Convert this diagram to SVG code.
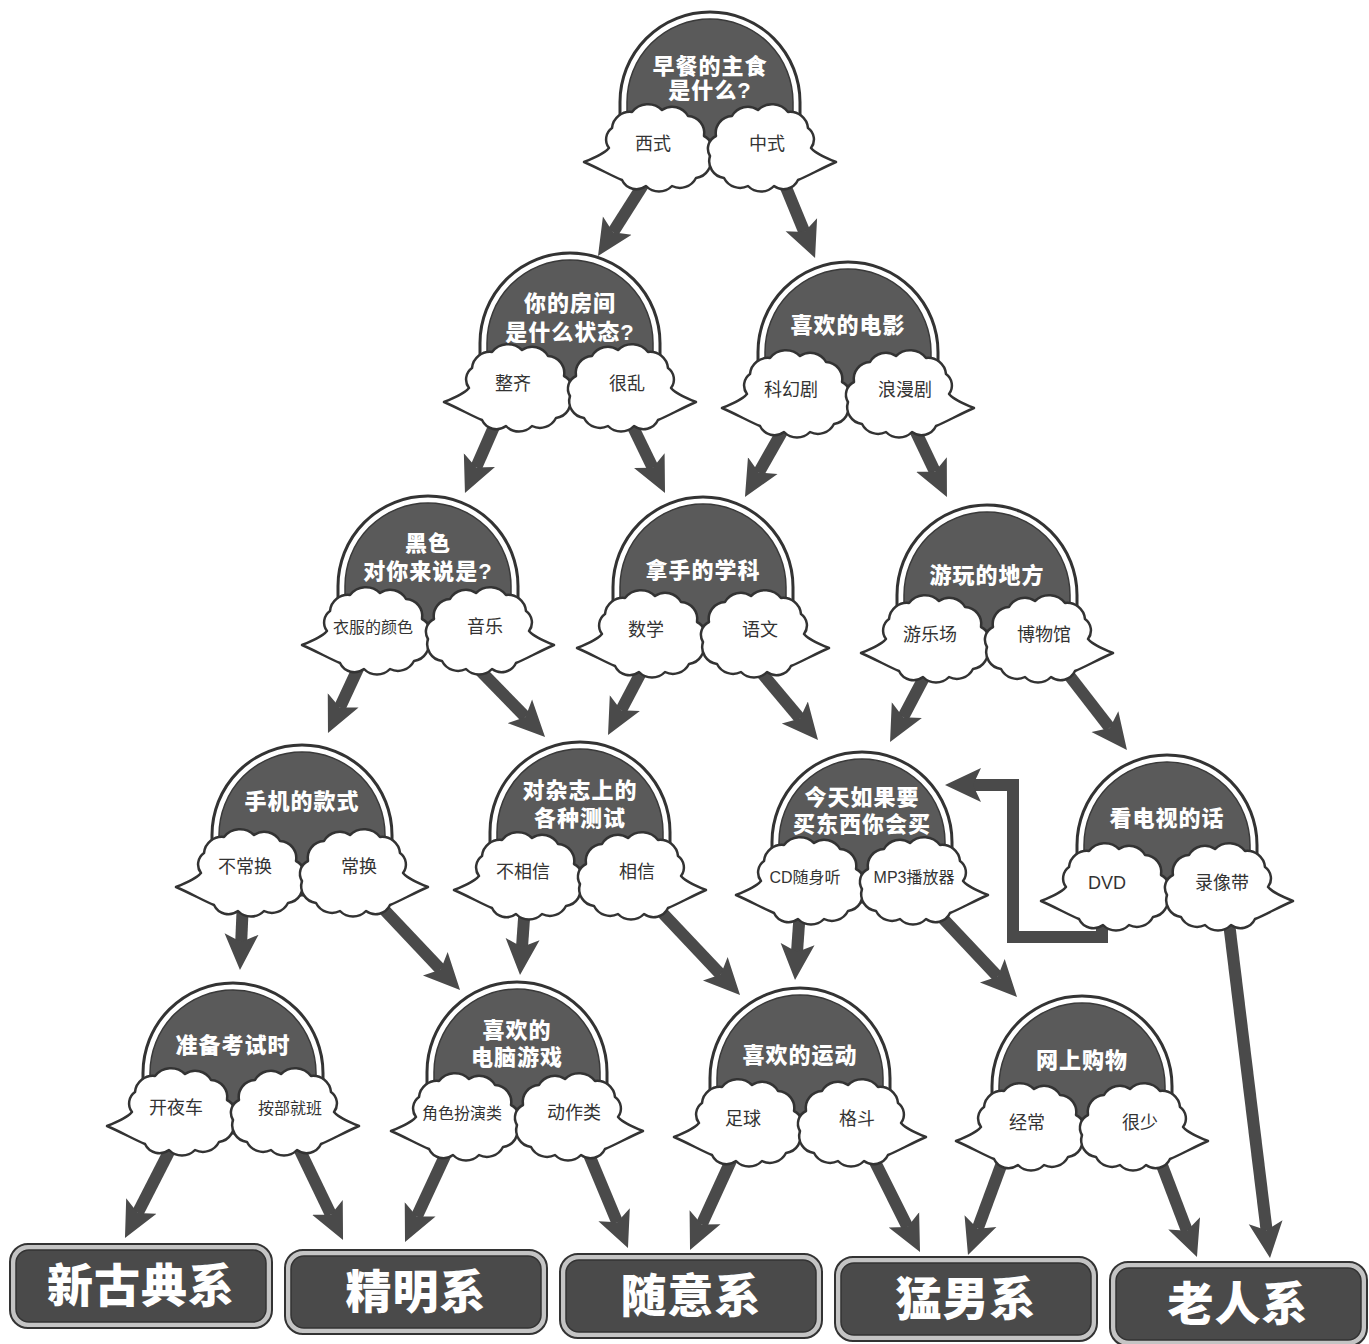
<svg xmlns="http://www.w3.org/2000/svg" width="1369" height="1344" viewBox="0 0 1369 1344">
<defs>
<style>
.cl{fill:#fff;stroke:#333;stroke-width:2.5;stroke-linejoin:round}
.dO{fill:#fff;stroke:#333;stroke-width:3}
.dI{fill:#5a5a5a;stroke:#3a3a3a;stroke-width:1.5}
.t{font-family:"Liberation Sans","Noto Sans CJK SC",sans-serif;font-weight:900;font-size:22px;fill:#fff;text-anchor:middle;letter-spacing:1px}
.l{font-family:"Liberation Sans","Noto Sans CJK SC",sans-serif;font-size:18px;fill:#333;text-anchor:middle}
.s{font-size:16px}
.a{fill:none;stroke:#4a4a4a;stroke-width:12;stroke-linejoin:miter;marker-end:url(#ah)}
.bo{fill:#c4c4c4;stroke:#333;stroke-width:2}
.bi{fill:#4a4a4a;stroke:#333;stroke-width:1.5}
.bt{font-family:"Liberation Sans","Noto Sans CJK SC",sans-serif;font-weight:900;font-size:46px;fill:#fff;text-anchor:middle;letter-spacing:1px}
</style>
<marker id="ah" markerUnits="userSpaceOnUse" viewBox="0 0 38 38" refX="8" refY="19" markerWidth="38" markerHeight="38" orient="auto"><path d="M0,2 L36,19 L0,36 L8,19 Z" fill="#4a4a4a"/></marker>
<g id="dome"><path class="dO" d="M-90,150 V90 A90,90 0 0 1 90,90 V150 Z"/><path class="dI" d="M-83,150 V90 A83,83 0 0 1 83,90 V150 Z"/></g>
<path id="cloud" class="cl" d="M0,56 C10,52 20,48 25,42 A14,14 0 0 1 28,22 A18,18 0 0 1 48,6 A20,20 0 0 1 78,4 A18,18 0 0 1 104,10 A17,17 0 0 1 120,30 A14,14 0 0 1 126,50 A17,17 0 0 1 112,72 A18,18 0 0 1 88,80 A18,18 0 0 1 62,80 A16,16 0 0 1 38,74 C28,70 14,62 0,56 Z"/>
</defs>
<rect width="1369" height="1344" fill="#fff"/>
<g id="connectors">
<path class="a" d="M653.7,168.1 L613,232.3"/>
<path class="a" d="M777.4,166.5 L804.4,232.1"/>
<path class="a" d="M505,401.7 L476.2,467.4"/>
<path class="a" d="M623.3,407 L652.8,467.8"/>
<path class="a" d="M792.9,412.6 L758.8,472.6"/>
<path class="a" d="M906.4,411.9 L934.9,471.7"/>
<path class="a" d="M370.4,641.9 L339.8,707.6"/>
<path class="a" d="M456,645.7 L525.5,717"/>
<path class="a" d="M654.3,647.3 L621.1,710.2"/>
<path class="a" d="M742.1,649.7 L800,718.6"/>
<path class="a" d="M937.3,652.3 L903.1,717.2"/>
<path class="a" d="M1052.7,654.2 L1109.8,727.9"/>
<path class="a" d="M243.9,880 L241.2,942"/>
<path class="a" d="M361.3,885.5 L440.8,969.6"/>
<path class="a" d="M526.4,885.1 L522,947.1"/>
<path class="a" d="M641.3,890.5 L720.8,974.6"/>
<path class="a" d="M801.4,890.1 L797,952.1"/>
<path class="a" d="M921.3,895.5 L997.8,976.6"/>
<path class="a" d="M1102,900 V937 H1013 V785 H973"/>
<path class="a" d="M1225.6,895.1 L1266.6,1230.2"/>
<path class="a" d="M184.1,1122.2 L137.7,1213.1"/>
<path class="a" d="M286.3,1122 L330.9,1214.7"/>
<path class="a" d="M458.4,1126.9 L416.8,1216.6"/>
<path class="a" d="M577.3,1126.5 L617.2,1222.2"/>
<path class="a" d="M743.3,1133.8 L701.7,1224.5"/>
<path class="a" d="M861.1,1134.1 L907.5,1227"/>
<path class="a" d="M1011.9,1136.2 L977.7,1228.7"/>
<path class="a" d="M1152.9,1141.3 L1187,1230.8"/>
</g>
<g id="q1" transform="translate(710,12)">
<use href="#dome"/><use href="#cloud" transform="translate(-126,94)"/><use href="#cloud" transform="translate(126,94) scale(-1,1)"/>
<text class="t" y="62">早餐的主食</text><text class="t" y="86">是什么?</text>
<text class="l" x="-57" y="138">西式</text><text class="l" x="57" y="138">中式</text>
</g>
<g id="q2" transform="translate(570,253)">
<use href="#dome"/><use href="#cloud" transform="translate(-126,93)"/><use href="#cloud" transform="translate(126,93) scale(-1,1)"/>
<text class="t" y="58">你的房间</text><text class="t" y="87">是什么状态?</text>
<text class="l" x="-57" y="137">整齐</text><text class="l" x="57" y="137">很乱</text>
</g>
<g id="q3" transform="translate(848,262)">
<use href="#dome"/><use href="#cloud" transform="translate(-126,90)"/><use href="#cloud" transform="translate(126,90) scale(-1,1)"/>
<text class="t" y="71">喜欢的电影</text>
<text class="l" x="-57" y="134">科幻剧</text><text class="l" x="57" y="134">浪漫剧</text>
</g>
<g id="q4" transform="translate(428,496)">
<use href="#dome"/><use href="#cloud" transform="translate(-126,93)"/><use href="#cloud" transform="translate(126,93) scale(-1,1)"/>
<text class="t" y="55">黑色</text><text class="t" y="83">对你来说是?</text>
<text class="l s" x="-55" y="137">衣服的颜色</text><text class="l" x="57" y="137">音乐</text>
</g>
<g id="q5" transform="translate(703,497)">
<use href="#dome"/><use href="#cloud" transform="translate(-126,95)"/><use href="#cloud" transform="translate(126,95) scale(-1,1)"/>
<text class="t" y="81">拿手的学科</text>
<text class="l" x="-57" y="139">数学</text><text class="l" x="57" y="139">语文</text>
</g>
<g id="q6" transform="translate(987,505)">
<use href="#dome"/><use href="#cloud" transform="translate(-126,92)"/><use href="#cloud" transform="translate(126,92) scale(-1,1)"/>
<text class="t" y="78">游玩的地方</text>
<text class="l" x="-57" y="136">游乐场</text><text class="l" x="57" y="136">博物馆</text>
</g>
<g id="q7" transform="translate(302,745)">
<use href="#dome"/><use href="#cloud" transform="translate(-126,86)"/><use href="#cloud" transform="translate(126,86) scale(-1,1)"/>
<text class="t" y="64">手机的款式</text>
<text class="l" x="-57" y="128">不常换</text><text class="l" x="57" y="128">常换</text>
</g>
<g id="q8" transform="translate(580,742)">
<use href="#dome"/><use href="#cloud" transform="translate(-126,92)"/><use href="#cloud" transform="translate(126,92) scale(-1,1)"/>
<text class="t" y="56">对杂志上的</text><text class="t" y="84">各种测试</text>
<text class="l" x="-57" y="136">不相信</text><text class="l" x="57" y="136">相信</text>
</g>
<g id="q9" transform="translate(862,752)">
<use href="#dome"/><use href="#cloud" transform="translate(-126,87)"/><use href="#cloud" transform="translate(126,87) scale(-1,1)"/>
<text class="t" y="53">今天如果要</text><text class="t" y="80">买东西你会买</text>
<text class="l s" x="-57" y="131">CD随身听</text><text class="l s" x="52" y="131">MP3播放器</text>
</g>
<g id="q10" transform="translate(1167,755)">
<use href="#dome"/><use href="#cloud" transform="translate(-126,90)"/><use href="#cloud" transform="translate(126,90) scale(-1,1)"/>
<text class="t" y="71">看电视的话</text>
<text class="l" x="-60" y="134">DVD</text><text class="l" x="55" y="134">录像带</text>
</g>
<g id="q11" transform="translate(233,983)">
<use href="#dome"/><use href="#cloud" transform="translate(-126,87)"/><use href="#cloud" transform="translate(126,87) scale(-1,1)"/>
<text class="t" y="70">准备考试时</text>
<text class="l" x="-57" y="131">开夜车</text><text class="l s" x="57" y="131">按部就班</text>
</g>
<g id="q12" transform="translate(517,982)">
<use href="#dome"/><use href="#cloud" transform="translate(-126,93)"/><use href="#cloud" transform="translate(126,93) scale(-1,1)"/>
<text class="t" y="56">喜欢的</text><text class="t" y="83">电脑游戏</text>
<text class="l s" x="-55" y="137">角色扮演类</text><text class="l" x="57" y="137">动作类</text>
</g>
<g id="q13" transform="translate(800,988)">
<use href="#dome"/><use href="#cloud" transform="translate(-126,93)"/><use href="#cloud" transform="translate(126,93) scale(-1,1)"/>
<text class="t" y="75">喜欢的运动</text>
<text class="l" x="-57" y="137">足球</text><text class="l" x="57" y="137">格斗</text>
</g>
<g id="q14" transform="translate(1082,996)">
<use href="#dome"/><use href="#cloud" transform="translate(-126,89)"/><use href="#cloud" transform="translate(126,89) scale(-1,1)"/>
<text class="t" y="72">网上购物</text>
<text class="l" x="-55" y="133">经常</text><text class="l" x="58" y="133">很少</text>
</g>
<g id="r1"><rect class="bo" x="10" y="1244" width="262" height="84" rx="18"/><rect class="bi" x="16" y="1250" width="250" height="72" rx="13"/><text class="bt" x="141" y="1302">新古典系</text></g>
<g id="r2"><rect class="bo" x="285" y="1250" width="262" height="84" rx="18"/><rect class="bi" x="291" y="1256" width="250" height="72" rx="13"/><text class="bt" x="416" y="1308">精明系</text></g>
<g id="r3"><rect class="bo" x="560" y="1254" width="262" height="84" rx="18"/><rect class="bi" x="566" y="1260" width="250" height="72" rx="13"/><text class="bt" x="691" y="1312">随意系</text></g>
<g id="r4"><rect class="bo" x="835" y="1257" width="262" height="84" rx="18"/><rect class="bi" x="841" y="1263" width="250" height="72" rx="13"/><text class="bt" x="966" y="1315">猛男系</text></g>
<g id="r5"><rect class="bo" x="1110" y="1262" width="257" height="84" rx="18"/><rect class="bi" x="1116" y="1268" width="245" height="72" rx="13"/><text class="bt" x="1238" y="1320">老人系</text></g>
</svg>
